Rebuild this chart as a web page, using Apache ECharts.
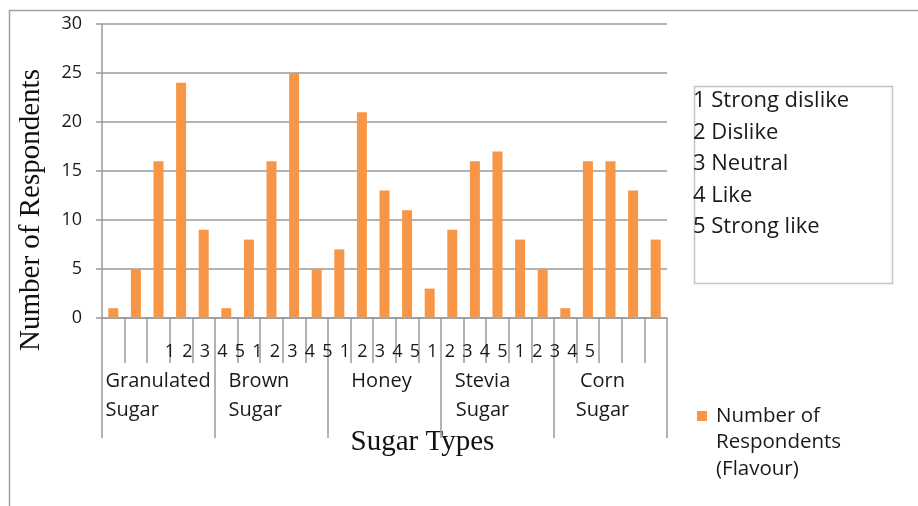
<!DOCTYPE html>
<html>
<head>
<meta charset="utf-8">
<script src="https://cdn.jsdelivr.net/npm/echarts@6/dist/echarts.min.js"></script>
<style>
  html, body { margin: 0; padding: 0; background: #fff; }
  #chart { width: 918px; height: 506px; }
</style>
</head>
<body>
<div id="chart"></div>
<script>
// sugar types along the bottom, ratings 1..5 inside each group
const sugarTypes = ['Granulated\nSugar', 'Brown\nSugar', 'Honey', 'Stevia\nSugar', 'Corn\nSugar']
const ratings = ['1', '2', '3', '4', '5']
const ratingNames = ['Strong dislike', 'Dislike', 'Neutral', 'Like', 'Strong like']

// respondents per rating, one array per sugar type
const granulated = [1, 5, 16, 24, 9]
const brown = [1, 8, 16, 25, 5]
const honey = [7, 21, 13, 11, 3]
const stevia = [9, 16, 17, 8, 5]
const corn = [1, 16, 16, 13, 8]

const yTicks = { min: 0, max: 30, interval: 5 }
const seriesName = 'Number of Respondents (Flavour)'

const categories = []
sugarTypes.forEach(t => ratings.forEach(r => categories.push(t.replace('\n', ' ') + ' ' + r)))
const values = [].concat(granulated, brown, honey, stevia, corn)
const ratingRow = categories.map((c, i) => ratings[i % ratings.length])

const ORANGE = '#F79646'
const GRID_GRAY = '#9a9a9a'
const SANS = '"Open Sans", sans-serif'
const SERIF = '"Liberation Serif", "Times New Roman", serif'

// Excel placed the group labels a bit unevenly; mimic it with rich-text boxes
const groupLabelStyle = {
  g0: { width: 106, align: 'left' },
  g1: { width: 86, align: 'left' },
  g2: { align: 'center', padding: [0, 6, 0, 0] },
  g3: { align: 'center', padding: [0, 30, 0, 0] },
  g4: { align: 'center', padding: [0, 16, 0, 0] },
}
Object.values(groupLabelStyle).forEach(s => Object.assign(s, {
  fontFamily: SANS, fontSize: 20, lineHeight: 29, color: '#1a1a1a',
}))

const chart = echarts.init(document.getElementById('chart'), null, { renderer: 'canvas' })

chart.setOption({
  animation: false,
  backgroundColor: '#fff',
  grid: [
    { left: 102, right: 251, top: 24, bottom: 188 },
    // narrower helper grid: Excel squeezed the rating digits into one centred row
    { left: 161.25, width: 437.5, top: 24, bottom: 188 },
  ],
  xAxis: [
    {
      type: 'category',
      gridIndex: 0,
      data: categories,
      axisLine: { lineStyle: { color: GRID_GRAY, width: 1.5 } },
      axisTick: { show: true, length: 45, interval: 0, lineStyle: { color: GRID_GRAY, width: 1.5 } },
      axisLabel: { show: false },
    },
    {
      type: 'category',
      gridIndex: 1,
      data: ratingRow,
      axisLine: { show: false },
      axisTick: { show: false },
      axisLabel: {
        interval: 0, margin: 23, color: '#1a1a1a',
        fontFamily: SANS, fontSize: 18, lineHeight: 22,
      },
    },
    {
      type: 'category',
      gridIndex: 0,
      position: 'bottom',
      data: sugarTypes,
      axisLine: { show: false },
      axisTick: { show: true, length: 120, interval: 0, lineStyle: { color: GRID_GRAY, width: 1.5 } },
      axisLabel: {
        interval: 0, margin: 49,
        formatter: (v, i) => v.split('\n').map(line => `{g${i}|${line}}`).join('\n'),
        rich: groupLabelStyle,
      },
      name: 'Sugar Types',
      nameLocation: 'middle',
      nameGap: 110,
      nameTextStyle: {
        fontFamily: SERIF, fontSize: 29, color: '#111',
        padding: [0, 0, 0, 76],
      },
    },
  ],
  yAxis: [
    {
      type: 'value',
      gridIndex: 0,
      min: yTicks.min, max: yTicks.max, interval: yTicks.interval,
      axisLine: { show: true, lineStyle: { color: GRID_GRAY, width: 1.5 } },
      axisTick: { show: true, length: 6, lineStyle: { color: GRID_GRAY, width: 1.5 } },
      splitLine: { lineStyle: { color: GRID_GRAY, width: 1.5 } },
      axisLabel: { margin: 20, color: '#1a1a1a', fontFamily: SANS, fontSize: 18 },
      name: 'Number of Respondents',
      nameLocation: 'middle',
      nameRotate: 90,
      nameGap: 56,
      nameTextStyle: {
        fontFamily: SERIF, fontSize: 29, color: '#111',
        padding: [0, 78, 0, 0],
      },
    },
    { type: 'value', gridIndex: 1, show: false, min: yTicks.min, max: yTicks.max },
  ],
  legend: {
    data: [seriesName],
    left: 697,
    top: 402.5,
    padding: 0,
    // tall transparent icon box so the orange square sits beside the first text line
    icon: 'path://M0,8.5L10,8.5L10,18.5L0,18.5Z M0,0L0.01,0L0.01,0.01Z M0,79.99L0.01,79.99L0.01,80Z',
    itemWidth: 10,
    itemHeight: 80,
    formatter: () => 'Number of\nRespondents\n(Flavour)',
    textStyle: {
      fontFamily: SANS, fontSize: 20.5, lineHeight: 26.5, color: '#1a1a1a',
      padding: [0, 0, 0, 4],
    },
  },
  graphic: [
    {
      // outer chart border (Excel chart area), cropped on right/bottom
      type: 'rect',
      shape: { x: 9.5, y: 10.5, width: 1000, height: 1000 },
      style: { fill: 'none', stroke: '#a0a0a0', lineWidth: 1.5 },
      silent: true,
    },
    {
      type: 'rect',
      shape: { x: 694.5, y: 86.5, width: 198, height: 197 },
      style: { fill: '#fff', stroke: '#c4c4c4', lineWidth: 1.5 },
      silent: true,
    },
    {
      type: 'text',
      x: 693,
      y: 85,
      style: {
        text: ratingNames.map((n, i) => ratings[i] + ' ' + n).join('\n'),
        fontFamily: SANS, fontSize: 22, lineHeight: 31.5, fill: '#1a1a1a',
      },
      silent: true,
    },
  ],
  series: [
    {
      name: seriesName,
      type: 'bar',
      xAxisIndex: 0,
      yAxisIndex: 0,
      data: values,
      barWidth: 10,
      itemStyle: { color: ORANGE },
    },
  ],
})
</script>
</body>
</html>
